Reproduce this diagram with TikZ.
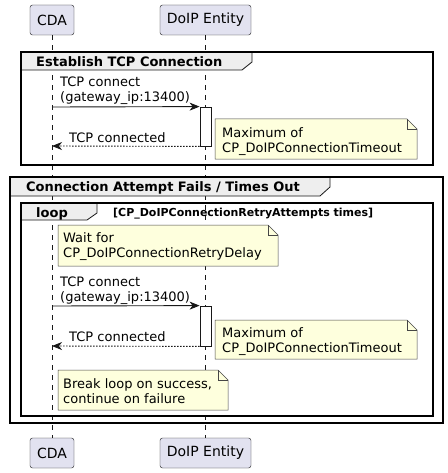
\documentclass[tikz,border=0pt]{standalone}
\usepackage{fontspec}
\setmainfont{DejaVu Sans}
\usepackage{xcolor}
\usetikzlibrary{arrows.meta}

\definecolor{umlline}{HTML}{181818}
\definecolor{partfill}{HTML}{E2E2F0}
\definecolor{notefill}{HTML}{FEFFDD}
\definecolor{headfill}{HTML}{EEEEEE}

\newcommand{\drawnote}[4]{%
	\draw [notebox] (#1,#2) -- (#3-10,#2) -- (#3,#2+10) -- (#3,#4) -- (#1,#4) -- cycle;
	\draw [notebox,fill=none] (#3-10,#2) -- (#3-10,#2+10) -- (#3,#2+10);
}
\newcommand{\drawhead}[4]{%
	\draw [headbox] (#1,#2) -- (#3,#2) -- (#3,#2+10) -- (#3-10,#4) -- (#1,#4) -- cycle;
}

\tikzset{
	actor/.style={draw=umlline, fill=partfill, rounded corners=2.5pt, minimum height=30pt, inner sep=0pt, font=\fontsize{14}{16}\selectfont},
	lifeline/.style={draw=umlline, line width=0.5pt, dash pattern=on 5pt off 5pt},
	groupbox/.style={draw=black, line width=1.8pt},
	headbox/.style={draw=umlline, fill=headfill, line width=0.8pt},
	notebox/.style={draw=umlline!80, fill=notefill, line width=0.5pt},
	activation/.style={draw=umlline, fill=white, line width=0.8pt, minimum width=11pt, minimum height=39pt, inner sep=0pt},
	msg/.style={draw=umlline, line width=0.9pt, -{Stealth[length=10pt,width=8pt,inset=3pt]}},
	reply/.style={msg, dash pattern=on 1.5pt off 1.5pt},
	txt/.style={anchor=north west, inner sep=0pt, align=left, font=\fontsize{13}{15}\selectfont},
	title/.style={txt, font=\fontsize{13}{15}\selectfont\bfseries},
}

\begin{document}
\begin{tikzpicture}[x=1pt,y=-1pt]
	\useasboundingbox [fill=white] (0,0) rectangle (447,473);

	% participants
	\node [actor, minimum width=44pt] (cdaTop) at (52,20) {CDA};
	\node [actor, minimum width=91pt] (doipTop) at (205.5,20) {DoIP Entity};
	\node [actor, minimum width=44pt] (cdaBot) at (52,453) {CDA};
	\node [actor, minimum width=91pt] (doipBot) at (205.5,453) {DoIP Entity};
	\draw [lifeline] (cdaTop) -- (cdaBot);
	\draw [lifeline] (doipTop) -- (doipBot);

	% Establish TCP Connection
	\drawhead{21}{52}{252}{70}
	\draw [groupbox] (21,52) rectangle (433,165);
	\node [title] (estTitle) at (36,56) {Establish TCP Connection};

	\coordinate (req1) at (52,107);
	\coordinate (ret1) at (52,146);
	\node [activation] (act1) at (205.5,126.5) {};
	\draw [msg] (req1) -- (act1.north west);
	\draw [reply] (act1.south west) -- (ret1);
	\node [txt] (req1Label) at (60,77) {TCP connect\\(gateway\_ip:13400)};
	\node [txt] (ret1Label) at (69,132) {TCP connected};
	\drawnote{215}{119}{417}{159}
	\node [txt] (timeout1) at (222,127) {Maximum of\\CP\_DoIPConnectionTimeout};

	% Connection Attempt Fails / Times Out
	\drawhead{10}{177}{330}{196}
	\draw [groupbox] (10,177) rectangle (443,423);
	\node [title] (failTitle) at (26,181) {Connection Attempt Fails / Times Out};

	\drawhead{21}{203}{97}{220}
	\draw [groupbox] (21,203) rectangle (433,416);
	\node [title] (loopTitle) at (36,207) {loop};
	\node [txt, font=\fontsize{11}{13}\selectfont\bfseries] (loopCond) at (113,208) {[CP\_DoIPConnectionRetryAttempts times]};

	\drawnote{58}{225}{278}{266}
	\node [txt] (delay) at (63,232) {Wait for\\CP\_DoIPConnectionRetryDelay};

	\coordinate (req2) at (52,306);
	\coordinate (ret2) at (52,346);
	\node [activation, minimum height=40pt] (act2) at (205.5,326) {};
	\draw [msg] (req2) -- (act2.north west);
	\draw [reply] (act2.south west) -- (ret2);
	\node [txt] (req2Label) at (60,277) {TCP connect\\(gateway\_ip:13400)};
	\node [txt] (ret2Label) at (69,331) {TCP connected};
	\drawnote{215}{320}{417}{359}
	\node [txt] (timeout2) at (222,327) {Maximum of\\CP\_DoIPConnectionTimeout};

	\drawnote{58}{370}{228}{410}
	\node [txt] (breakNote) at (63,378) {Break loop on success,\\continue on failure};
\end{tikzpicture}
\end{document}
